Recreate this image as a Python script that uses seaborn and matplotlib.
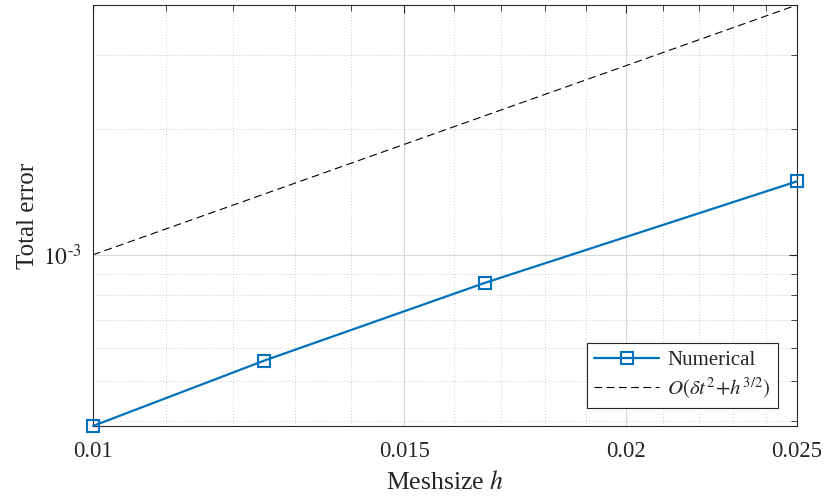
import numpy as np
import pandas as pd
import seaborn as sns
import matplotlib
matplotlib.use("Agg")
import matplotlib.pyplot as plt
from matplotlib.ticker import FixedLocator, NullFormatter, FixedFormatter

# ---- data ----
h_num = [0.01, 0.0125, 1/60, 0.025]
err_num = [3.90e-4, 5.59e-4, 8.58e-4, 1.498e-3]
h_ref = [0.01, 0.025]
err_ref = [1.0e-3, 3.953e-3]
xtick_vals = [0.01, 0.015, 0.02, 0.025]
xtick_labels = ["0.01", "0.015", "0.02", "0.025"]
xminor_vals = [0.011, 0.012, 0.013, 0.014, 0.016, 0.017, 0.018, 0.019,
               0.021, 0.022, 0.023, 0.024]
ymajor_vals = [1e-3]
yminor_vals = [4e-4, 5e-4, 6e-4, 7e-4, 8e-4, 9e-4, 2e-3, 3e-3]

sns.set_style("white")
plt.rcParams["font.family"] = ["Liberation Serif", "DejaVu Serif"]
plt.rcParams["mathtext.fontset"] = "stix"

df_num = pd.DataFrame({"h": h_num, "err": err_num})
df_ref = pd.DataFrame({"h": h_ref, "err": err_ref})

fig = plt.figure(figsize=(8.25, 4.98), dpi=100)
ax = fig.add_axes([0.1127, 0.1446, 0.8533, 0.8454])

blue = "#0072BD"
axcol = "#262626"

sns.lineplot(data=df_num, x="h", y="err", ax=ax, color=blue, lw=1.6,
             marker="s", markersize=9, markerfacecolor="none",
             markeredgecolor=blue, markeredgewidth=1.5,
             label="Numerical", zorder=3, clip_on=False)
sns.lineplot(data=df_ref, x="h", y="err", ax=ax, color="black", lw=0.8,
             linestyle=(0, (7, 4)), label=r"$O(\delta t^2\!+\!h^{3/2})$", zorder=2)

ax.set_xscale("log")
ax.set_yscale("log")
ax.set_xlim(h_num[0], h_num[-1])
ax.set_ylim(err_num[0], err_ref[-1])

ax.xaxis.set_major_locator(FixedLocator(xtick_vals))
ax.xaxis.set_major_formatter(FixedFormatter(xtick_labels))
ax.xaxis.set_minor_locator(FixedLocator(xminor_vals))
ax.xaxis.set_minor_formatter(NullFormatter())
ax.yaxis.set_major_locator(FixedLocator(ymajor_vals))
ax.yaxis.set_major_formatter(FixedFormatter([r"$10^{\text{-}3}$"]))
ax.yaxis.set_minor_locator(FixedLocator(yminor_vals))
ax.yaxis.set_minor_formatter(NullFormatter())

ax.grid(True, which="major", color="#d9d9d9", lw=0.8, ls="-", zorder=0)
ax.grid(True, which="minor", color="#bdbdbd", lw=0.6, ls=(0, (1, 2.5)), zorder=0)
ax.set_axisbelow(True)

for s in ax.spines.values():
    s.set_color(axcol)
    s.set_linewidth(0.8)
    s.set_visible(True)
ax.tick_params(which="both", direction="in", top=True, right=True,
               colors=axcol, labelcolor=axcol, labelsize=16.3)
ax.tick_params(which="major", length=6, width=0.8)
ax.tick_params(axis="x", which="major", pad=11)
ax.tick_params(axis="y", which="major", pad=8, labelsize=17)
ax.tick_params(which="minor", length=4, width=0.6)

ax.set_xlabel(r"Meshsize $h$", fontsize=18.5, color=axcol, labelpad=6)
ax.set_ylabel("Total error", fontsize=18, color=axcol, labelpad=3)

leg = ax.legend(loc="lower right", fontsize=15, frameon=True, fancybox=False,
                edgecolor=axcol, handlelength=3.1, borderpad=0.35,
                labelspacing=0.25, handletextpad=0.4, borderaxespad=0,
                bbox_to_anchor=(0.973, 0.043))
leg.get_frame().set_linewidth(0.8)
leg.get_frame().set_alpha(1)

fig.savefig("out.png", dpi=100)
